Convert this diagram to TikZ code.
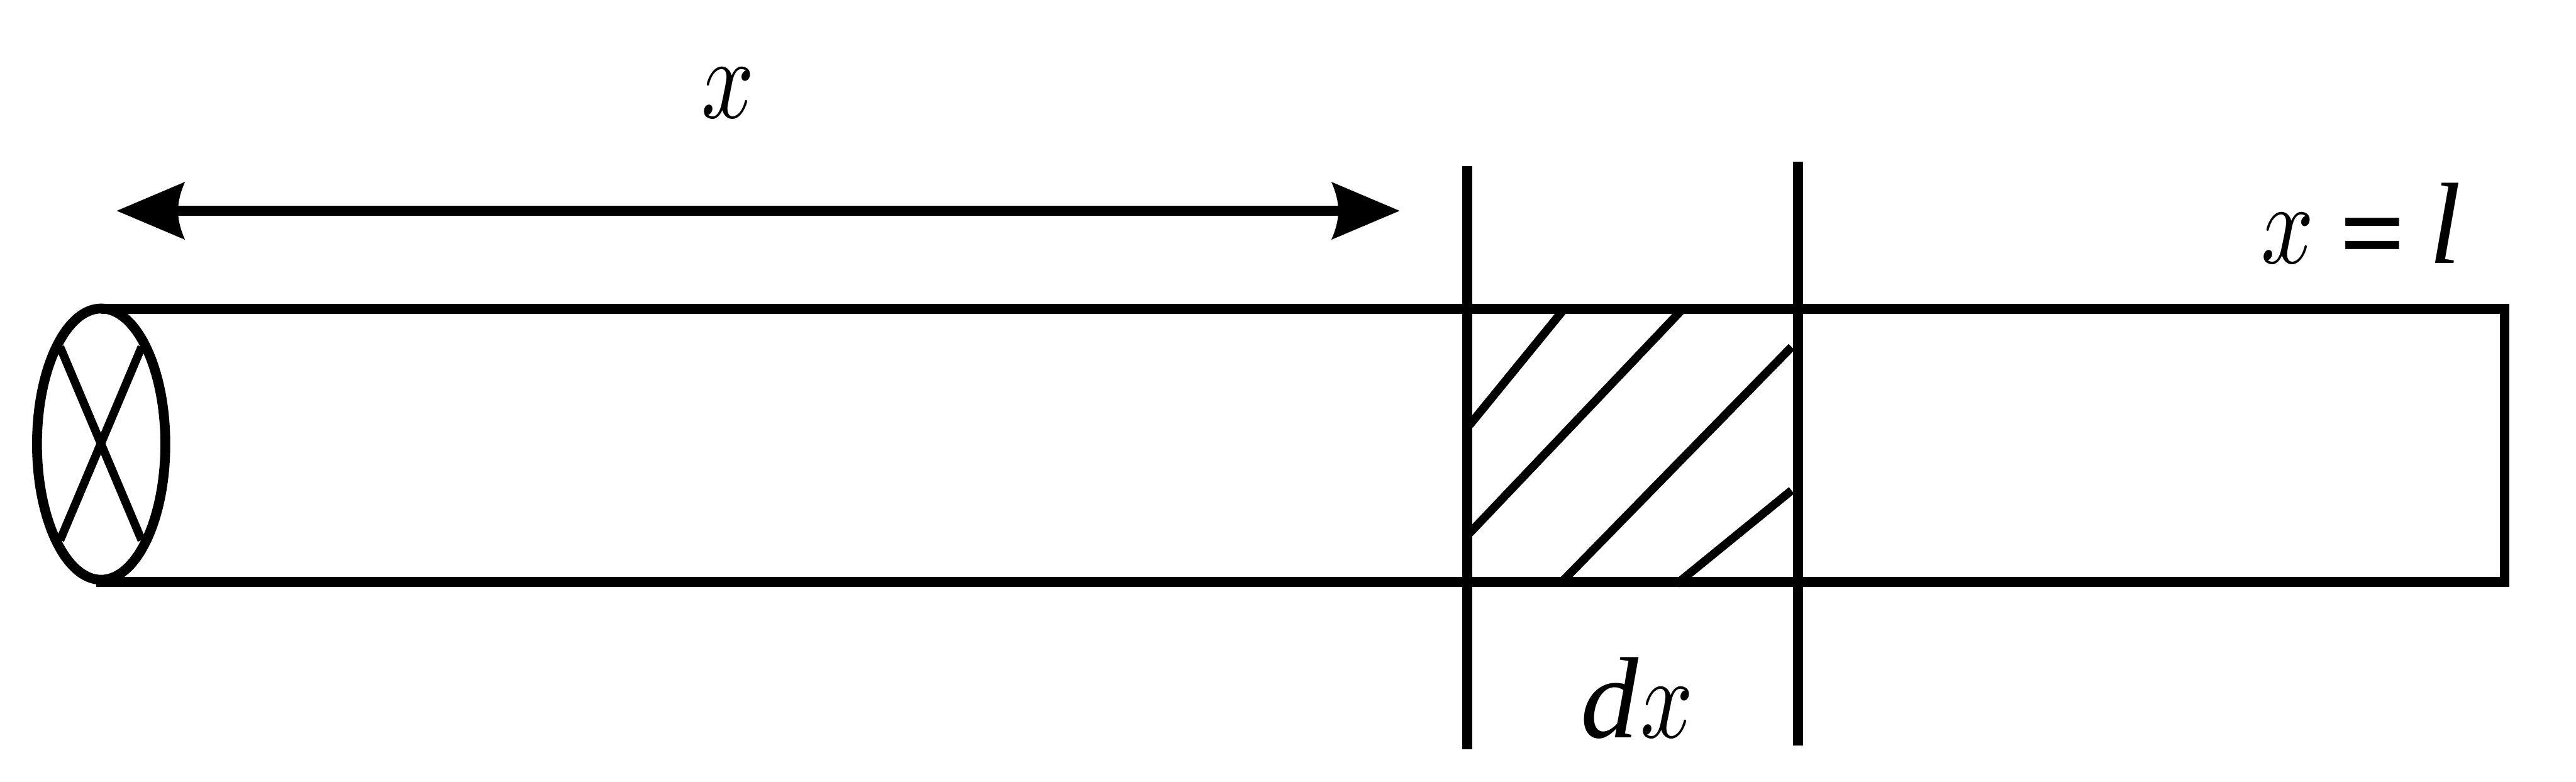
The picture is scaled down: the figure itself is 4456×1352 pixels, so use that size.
\documentclass[tikz,border=0pt]{standalone}
\usepackage{fontspec}
\usepackage{graphicx}
\setmainfont{Liberation Serif}
\newfontface\eqfont{Liberation Serif Bold}
\newfontface\itfont{Liberation Serif Italic}
\usetikzlibrary{arrows.meta}
\pgfdeclarearrow{
  name=Dart,
  setup code={
    \pgfarrowssettipend{0pt}
    \pgfarrowssetbackend{-23.6pt}
    \pgfarrowssetlineend{-20pt}
    \pgfarrowssetvisualbackend{-21.2pt}
  },
  drawing code={
    \pgfpathmoveto{\pgfpoint{0pt}{0pt}}
    \pgfpathlineto{\pgfpoint{-23.6pt}{10pt}}
    \pgfpathcurveto{\pgfpoint{-22.2pt}{6.8pt}}{\pgfpoint{-21.2pt}{3.5pt}}{\pgfpoint{-21.2pt}{0pt}}
    \pgfpathcurveto{\pgfpoint{-21.2pt}{-3.5pt}}{\pgfpoint{-22.2pt}{-6.8pt}}{\pgfpoint{-23.6pt}{-10pt}}
    \pgfpathclose
    \pgfusepathqfill
  }
}
\newcommand{\curlyx}{\scalebox{3.2}[4.0]{\fontsize{10}{12}\selectfont$x$}}
\tikzset{
  heavy/.style={line width=3.4pt,black,line cap=butt,line join=miter},
  hatchline/.style={line width=2.9pt,black,line cap=butt},
  label/.style={inner sep=0pt,outer sep=0pt,anchor=base west,font=\fontsize{40}{48}\selectfont}
}
\begin{document}
\begin{tikzpicture}[x=0.2pt,y=-0.2pt]
\useasboundingbox (0,0) rectangle (4456,1352);
% tube outline
\coordinate (tubeTL) at (175,534);
\coordinate (tubeTR) at (4332.5,534);
\coordinate (tubeBR) at (4332.5,1006);
\coordinate (tubeBL) at (166,1006);
\draw[heavy] (tubeTL) -- (tubeTR) -- (tubeBR) -- (tubeBL);
% end ellipse
\coordinate (cyl) at (175,768);
\draw[heavy] (cyl) ellipse [x radius=22.2pt,y radius=46.9pt];
\coordinate (xa) at (104,600);
\coordinate (xb) at (245,934);
\coordinate (xc) at (245,600);
\coordinate (xd) at (104,934);
\draw[hatchline] (xa) -- (xb);
\draw[hatchline] (xc) -- (xd);
% dimension arrow
\coordinate (dimL) at (202,364.5);
\coordinate (dimR) at (2421,364.5);
\draw[heavy,Dart-Dart] (dimL) -- (dimR);
% section lines
\coordinate (s1t) at (2538,287);
\coordinate (s1b) at (2538,1296);
\coordinate (s2t) at (3110,280);
\coordinate (s2b) at (3110,1289);
\draw[heavy] (s1t) -- (s1b);
\draw[heavy] (s2t) -- (s2b);
% hatching
\coordinate (h1a) at (2542,735);
\coordinate (h1b) at (2706,534);
\coordinate (h2a) at (2542,922);
\coordinate (h2b) at (2911,534);
\coordinate (h3a) at (2698,1010);
\coordinate (h3b) at (3099,600);
\coordinate (h4a) at (2900,1010);
\coordinate (h4b) at (3099,848);
\draw[hatchline] (h1a) -- (h1b);
\draw[hatchline] (h2a) -- (h2b);
\draw[hatchline] (h3a) -- (h3b);
\draw[hatchline] (h4a) -- (h4b);
% labels
\node[label] (xlabel) at (1214,204) {\curlyx};
\node[label] (xeql) at (3911,455) {\curlyx\hspace{9pt}\raisebox{-3pt}{\eqfont =}\hspace{8pt}\itfont l};
\node[label] (dxlabel) at (2734,1275) {\itfont d\hspace{0.8pt}\curlyx};
\end{tikzpicture}
\end{document}
